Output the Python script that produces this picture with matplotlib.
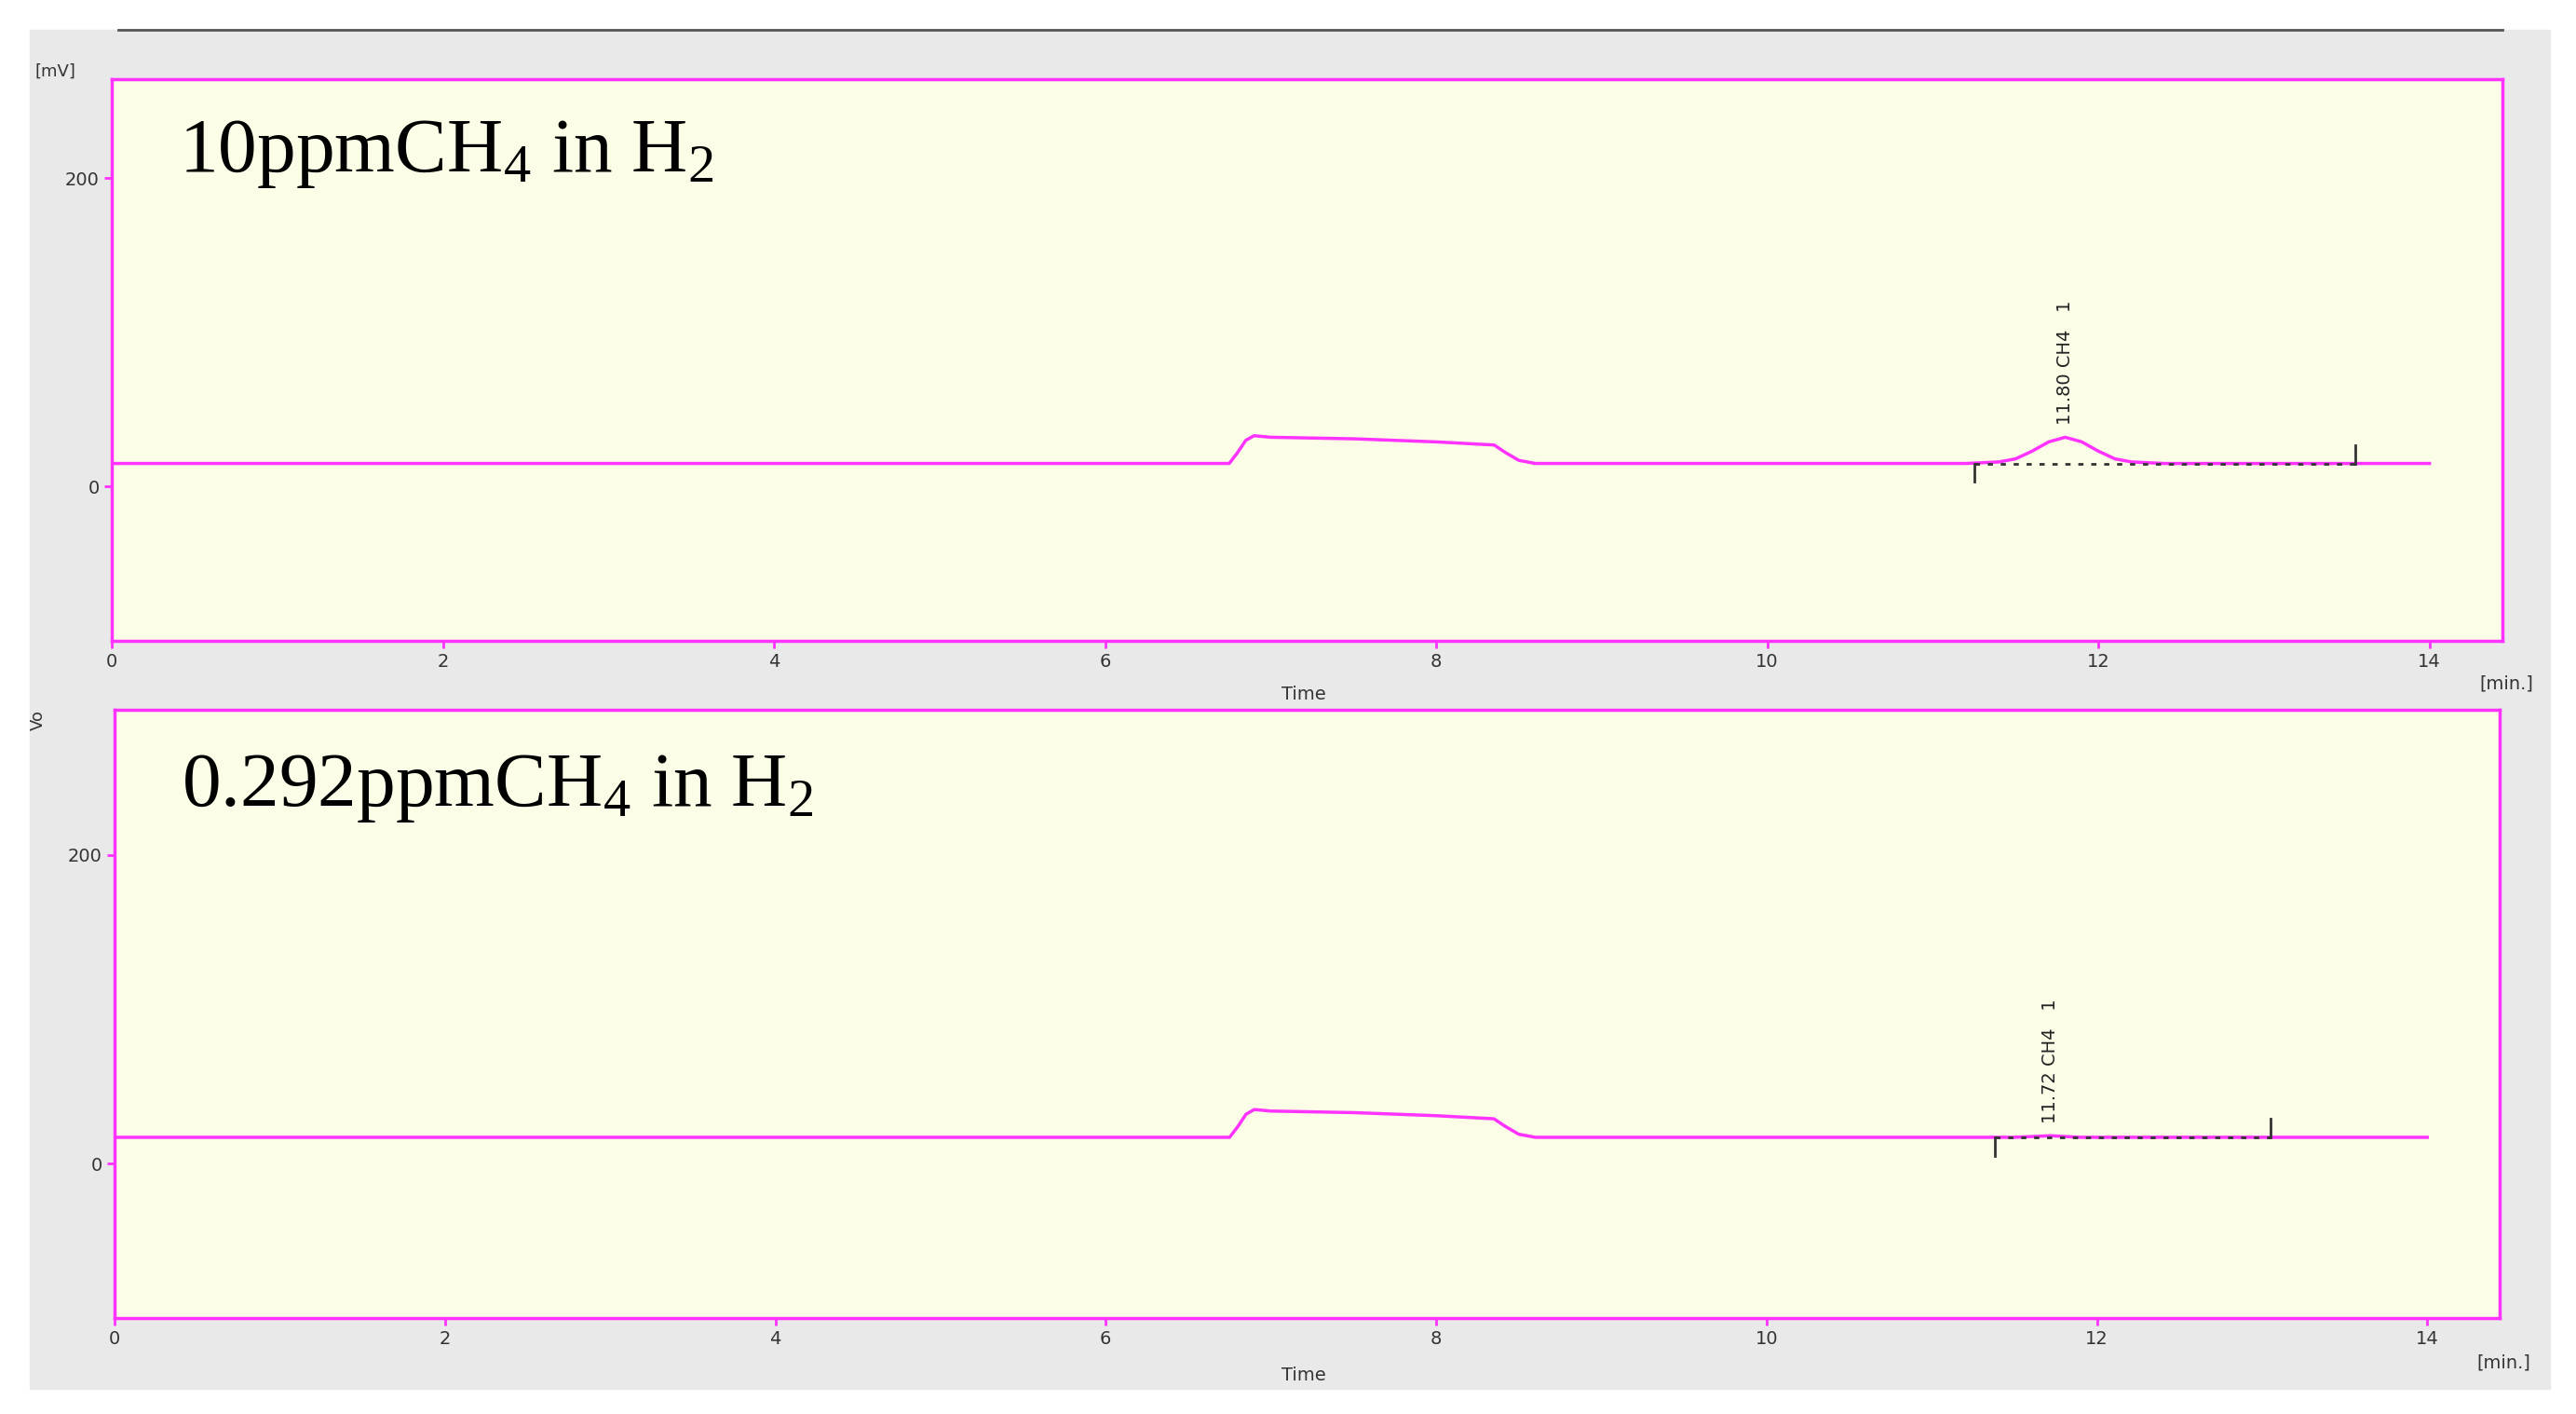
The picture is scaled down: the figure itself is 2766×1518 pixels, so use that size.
import matplotlib
matplotlib.use("Agg")
import matplotlib.pyplot as plt
from matplotlib.patches import Rectangle

plt.rcParams['mathtext.fontset'] = 'custom'
plt.rcParams['mathtext.rm'] = 'Liberation Serif'
plt.rcParams['mathtext.it'] = 'Liberation Serif'

# Top trace (10 ppm)
t1 = [0, 6.75, 6.8, 6.85, 6.9, 7.0, 7.5, 8.0, 8.35, 8.42, 8.5, 8.6, 11.2, 11.4, 11.5, 11.6, 11.7, 11.8, 11.9, 12.0, 12.1, 12.2, 12.4, 14.0]
s1 = [15, 15, 22, 30, 33, 32, 31, 29, 27, 22, 17, 15, 15, 16, 18, 23, 29, 32, 29, 23, 18, 16, 15, 15]
# Bottom trace (0.292 ppm)
t2 = [0, 6.75, 6.8, 6.85, 6.9, 7.0, 7.5, 8.0, 8.35, 8.42, 8.5, 8.6, 11.5, 11.72, 11.9, 14.0]
s2 = [17, 17, 24, 32, 35, 34, 33, 31, 29, 24, 19, 17, 17, 18, 17, 17]

titles = [r"10ppmCH$_\mathrm{4}$ in H$_\mathrm{2}$", r"0.292ppmCH$_\mathrm{4}$ in H$_\mathrm{2}$"]
peak_labels = ["11.80 CH4   1", "11.72 CH4   1"]
peak_times = [11.80, 11.72]
base_start = [11.25, 11.38]
base_end = [13.55, 13.05]
xticks = [0, 2, 4, 6, 8, 10, 12, 14]
yticks = [0, 200]

pink = '#ff33ff'
fig = plt.figure(figsize=(27.66, 15.18), dpi=100)
fig.patches.append(Rectangle((32/2766, 1-1491/1518), (2738-32)/2766, (1491-32)/1518,
                             transform=fig.transFigure, color='#e9e9e9', zorder=-10))
fig.add_artist(plt.Line2D([127/2766, 2687/2766], [1-32/1518]*2, color='#555555', lw=2))

axes_pos = [[120/2766, 0.5468, 0.928, 0.397], [123/2766, 0.068, 0.926, 0.430]]
ylims = [(-100, 264), (-100, 294)]
ts, ss = [t1, t2], [s1, s2]
for i in range(2):
    ax = fig.add_axes(axes_pos[i])
    ax.set_facecolor('#fcfde6')
    ax.set_xlim(0, 14.44)
    ax.set_ylim(*ylims[i])
    for sp in ax.spines.values():
        sp.set_color(pink); sp.set_linewidth(2.5)
    ax.tick_params(colors=pink, labelcolor='#333333', labelsize=14, length=6, width=2)
    ax.set_xticks(xticks); ax.set_yticks(yticks)
    ax.plot(ts[i], ss[i], color=pink, lw=2.5)
    b = ss[i][0]
    ax.plot([base_start[i], base_end[i]], [b, b], color='#333333', ls=(0, (2, 3)), lw=2)
    ax.plot([base_start[i]]*2, [b, b - 12], color='#333333', lw=2)
    ax.plot([base_end[i]]*2, [b, b + 12], color='#333333', lw=2)
    pk = max(ss[i][12:])
    ax.text(peak_times[i], pk + 8, peak_labels[i], rotation=90, ha='center', va='bottom',
            fontsize=14, color='#222222')
    ax.text(0.028, 0.93, titles[i], transform=ax.transAxes, fontsize=60,
            family='Liberation Serif', va='top', ha='left')
    ax.text(7.2, -0.08, "Time", transform=ax.get_xaxis_transform(), ha='center', va='top', fontsize=14, color='#333333')
    ax.text(14.3, -0.06, "[min.]", transform=ax.get_xaxis_transform(), ha='left', va='top', fontsize=14, color='#333333')
    if i == 0:
        ax.text(-0.015, 1.0, "[mV]", transform=ax.transAxes, ha='right', va='bottom', fontsize=13, color='#333333')
    else:
        ax.text(-0.032, 1.0, "Vo", transform=ax.transAxes, ha='center', va='top', rotation=90, fontsize=13, color='#333333')

fig.savefig("out.png", dpi=100, facecolor='white')
